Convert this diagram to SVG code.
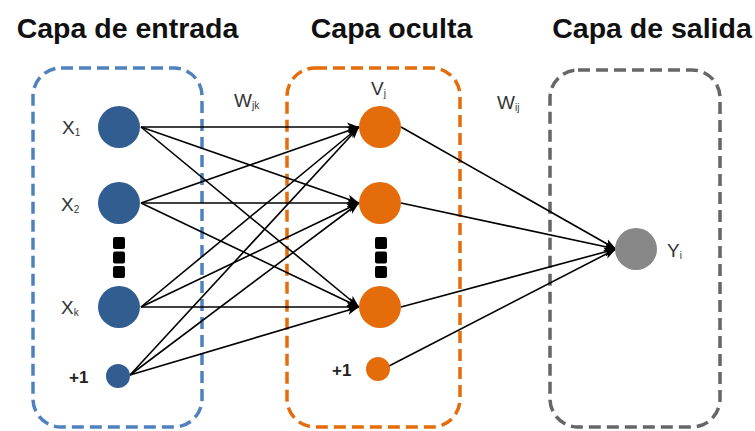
<svg xmlns="http://www.w3.org/2000/svg" width="755" height="431" viewBox="0 0 755 431">
<defs>
<style>
.title{font-family:"Liberation Sans",Arial,sans-serif;font-weight:bold;font-size:28.5px;fill:#111;text-anchor:middle}
.lbl{font-family:"Liberation Sans",Arial,sans-serif;font-size:19px;fill:#333}
.sub{font-size:10px}
.bias{font-family:"Liberation Sans",Arial,sans-serif;font-weight:bold;font-size:17px;fill:#222}
.box{fill:none;stroke-width:3.5;stroke-dasharray:12 6}
.in{fill:#325D90}
.hid{fill:#E46C0A}
.out{fill:#888888}
.dot{fill:#000}
.conn line{stroke:#000;stroke-width:1.6;marker-end:url(#arr)}
</style>
<marker id="arr" viewBox="0 0 12 10" refX="12" refY="5" markerWidth="12" markerHeight="10" markerUnits="userSpaceOnUse" orient="auto">
<path d="M0,0.5 L12,5 L0,9.5 L3,5 z" fill="#000"/>
</marker>
</defs>
<rect width="755" height="431" fill="#fff"/>

<g id="titles">
<text class="title" x="127.5" y="38">Capa de entrada</text>
<text class="title" x="391.5" y="38">Capa oculta</text>
<text class="title" x="652" y="38">Capa de salida</text>
</g>

<g id="layer-input-box"><rect class="box" x="33" y="68" width="169" height="359" rx="28" stroke="#4F81BD"/></g>
<g id="layer-hidden-box"><rect class="box" x="287" y="68" width="173" height="359" rx="28" stroke="#E46C0A"/></g>
<g id="layer-output-box"><rect class="box" x="550" y="70" width="170" height="357" rx="28" stroke="#666666"/></g>

<g id="connectors" class="conn">
<line x1="141" y1="127" x2="359" y2="127"/>
<line x1="141" y1="127" x2="359" y2="203"/>
<line x1="141" y1="127" x2="359" y2="307"/>
<line x1="141" y1="203" x2="359" y2="127"/>
<line x1="141" y1="203" x2="359" y2="203"/>
<line x1="141" y1="203" x2="359" y2="307"/>
<line x1="141" y1="307" x2="359" y2="127"/>
<line x1="141" y1="307" x2="359" y2="203"/>
<line x1="141" y1="307" x2="359" y2="307"/>
<line x1="130" y1="375" x2="359" y2="127"/>
<line x1="130" y1="375" x2="359" y2="203"/>
<line x1="130" y1="375" x2="359" y2="307"/>
<line x1="401" y1="127" x2="616" y2="249"/>
<line x1="401" y1="203" x2="616" y2="249"/>
<line x1="401" y1="307" x2="616" y2="249"/>
<line x1="389" y1="366" x2="616" y2="249"/>
</g>

<g id="x1"><circle class="in" cx="119" cy="127" r="21"/><text class="lbl" x="62" y="134">X<tspan class="sub" dy="2">1</tspan></text></g>
<g id="x2"><circle class="in" cx="119" cy="203" r="21"/><text class="lbl" x="61" y="211">X<tspan class="sub" dy="2">2</tspan></text></g>
<g id="input-dots">
<rect class="dot" x="113" y="237" width="12" height="12" rx="2"/>
<rect class="dot" x="113" y="251.5" width="12" height="12" rx="2"/>
<rect class="dot" x="113" y="266" width="12" height="12" rx="2"/>
</g>
<g id="xk"><circle class="in" cx="119" cy="307" r="21"/><text class="lbl" x="61" y="314">X<tspan class="sub" dy="2">k</tspan></text></g>
<g id="bias-in"><circle class="in" cx="118" cy="376" r="12"/><text class="bias" x="69" y="383">+1</text></g>

<g id="v1"><circle class="hid" cx="380" cy="127" r="21"/><text class="lbl" x="371" y="95">V<tspan class="sub" dy="2">j</tspan></text></g>
<g id="v2"><circle class="hid" cx="380" cy="203" r="21"/></g>
<g id="hidden-dots">
<rect class="dot" x="375" y="237" width="12" height="12" rx="2"/>
<rect class="dot" x="375" y="251.5" width="12" height="12" rx="2"/>
<rect class="dot" x="375" y="266" width="12" height="12" rx="2"/>
</g>
<g id="v3"><circle class="hid" cx="380" cy="307" r="21"/></g>
<g id="bias-hid"><circle class="hid" cx="378" cy="369" r="12"/><text class="bias" x="332" y="376">+1</text></g>

<g id="y"><circle class="out" cx="636" cy="249" r="21"/><text class="lbl" x="667" y="257">Y<tspan class="sub" dy="2">i</tspan></text></g>

<g id="weights">
<text class="lbl" x="234" y="107">W<tspan class="sub" dy="2">jk</tspan></text>
<text class="lbl" x="497" y="109">W<tspan class="sub" dy="2">ij</tspan></text>
</g>
</svg>
